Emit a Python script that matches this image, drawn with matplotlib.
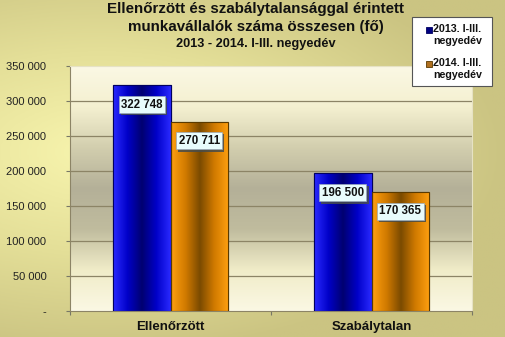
import numpy as np
import matplotlib
matplotlib.use("Agg")
import matplotlib.pyplot as plt
from matplotlib.colors import LinearSegmentedColormap
import matplotlib.patheffects as pe

categories = ["Ellenőrzött", "Szabálytalan"]
series_names = ["2013. I-III.\nnegyedév", "2014. I-III.\nnegyedév"]
values_2013 = [322748, 196500]
values_2014 = [270711, 170365]
yticks = [0, 50000, 100000, 150000, 200000, 250000, 300000, 350000]
ytick_labels = ["-", "50 000", "100 000", "150 000", "200 000", "250 000", "300 000", "350 000"]
label_texts_2013 = ["322 748", "196 500"]
label_texts_2014 = ["270 711", "170 365"]

plt.rcParams['font.family'] = ['Liberation Sans', 'DejaVu Sans']

W, H = 506, 337
fig = plt.figure(figsize=(W/100, H/100), dpi=100)

# figure background gradient
bg = fig.add_axes([0, 0, 1, 1], zorder=-10)
bg.axis('off')
yy, xx = np.mgrid[0:1:200j, 0:1:300j]
d = np.sqrt(((xx - 0.2) / 1.0) ** 2 + ((yy - 0.45) / 0.75) ** 2)
bgcmap = LinearSegmentedColormap.from_list("bgc", ["#f8f5ae", "#e4df98", "#cbc482"])
bg.imshow(d, cmap=bgcmap, aspect='auto', extent=[0, 1, 0, 1], vmin=0, vmax=0.8)
bg.set_xlim(0, 1); bg.set_ylim(0, 1)

ax = fig.add_axes([70/W, 1 - 311/H, (472 - 70)/W, (311 - 66)/H])
ax.set_xlim(-0.5, 1.5)
ax.set_ylim(0, 350000)

# plot area gradient
pcmap = LinearSegmentedColormap.from_list("pc", ["#fbf8e4", "#f0ecc8", "#c0bc9e", "#b4b098", "#d2ceae", "#f4f0d0", "#fbf8e4"])
grad = np.linspace(0, 1, 256).reshape(-1, 1)
ax.imshow(grad, cmap=pcmap, aspect='auto', extent=[-0.5, 1.5, 350000, 0], zorder=0)

for y in yticks[1:-1]:
    ax.axhline(y, color="#8c8466", lw=0.9, zorder=1)

x = np.arange(len(categories))
w = 0.285
bars1 = ax.bar(x - w/2, values_2013, w, color="#1a1aff", edgecolor="#000060", lw=0.8, zorder=2)
bars2 = ax.bar(x + w/2, values_2014, w, color="#ff9900", edgecolor="#5a3a00", lw=0.8, zorder=2)

blue_cmap = LinearSegmentedColormap.from_list("bl", ["#2a2aff", "#0000c8", "#000070", "#0000c8", "#2a2aff"])
orange_cmap = LinearSegmentedColormap.from_list("or", ["#ffa010", "#d07a00", "#7a4a00", "#d07a00", "#ffa010"])
hgrad = np.linspace(0, 1, 128).reshape(1, -1)
for bars, cm in [(bars1, blue_cmap), (bars2, orange_cmap)]:
    for b in bars:
        x0, y0 = b.get_x(), b.get_y()
        im = ax.imshow(hgrad, cmap=cm, aspect='auto',
                       extent=[x0, x0 + b.get_width(), y0, y0 + b.get_height()], zorder=2.5)
        im.set_clip_path(b)
        r = plt.Rectangle((x0, y0), b.get_width(), b.get_height(), fill=False,
                          ec=b.get_edgecolor(), lw=0.8, zorder=2.6)
        ax.add_patch(r)

ax.set_xlim(-0.5, 1.5)
ax.set_ylim(0, 350000)

def add_labels(bars, texts):
    for b, t in zip(bars, texts):
        ax.annotate(t, (b.get_x() + b.get_width()/2, b.get_height()), xytext=(0, -14),
                    textcoords='offset points', ha='center', va='center', fontsize=8.3,
                    fontweight='bold', color='#111111', zorder=5,
                    bbox=dict(boxstyle='square,pad=0.22', fc='#e8fcfc', ec='#9ab', lw=0.5,
                              path_effects=[pe.withSimplePatchShadow(offset=(1.5, -1.5), alpha=0.85)]))

add_labels(bars1, label_texts_2013)
add_labels(bars2, label_texts_2014)

ax.set_yticks(yticks)
ax.set_yticklabels(ytick_labels, fontsize=8, color="#222222")
ax.set_xticks(x)
ax.set_xticklabels(categories, fontsize=9.5, fontweight='bold', color="#111111")
ax.set_xticks([-0.5, 0.5, 1.5], minor=True)
ax.tick_params(axis='x', which='major', length=0, pad=7)
ax.tick_params(axis='x', which='minor', length=3, color="#777766", width=0.8)
ax.tick_params(axis='y', length=3, color="#777766", pad=14)
ax.spines['top'].set_color("#e6e2c4")
ax.spines['right'].set_color("#e6e2c4")
ax.spines['left'].set_color("#8c8466")
ax.spines['bottom'].set_color("#8c8466")

fig.text(0.505, 1 - 9/H, "Ellenőrzött és szabálytalansággal érintett", ha='center', va='center',
         fontsize=10.9, fontweight='bold', color='#111111')
fig.text(0.505, 1 - 27/H, "munkavállalók száma összesen (fő)", ha='center', va='center',
         fontsize=10.9, fontweight='bold', color='#111111')
fig.text(0.505, 1 - 44/H, "2013 - 2014. I-III. negyedév", ha='center', va='center',
         fontsize=9.2, fontweight='bold', color='#111111')

# legend (manual)
frame = plt.Rectangle((412/W, 1 - 86/H), 80/W, 69/H, transform=fig.transFigure,
                      fc='white', ec='#555555', lw=0.8, zorder=3)
fig.add_artist(frame)
legend_face = ["#000080", "#b07020"]
legend_edge = ["#000060", "#5a3a00"]
legend_top = [30, 64]
for name, fc, ec, ty in zip(series_names, legend_face, legend_edge, legend_top):
    sq = plt.Rectangle((426/W, 1 - (ty + 3)/H), 6/W, 6/H, transform=fig.transFigure,
                       fc=fc, ec=ec, lw=0.6, zorder=4)
    fig.add_artist(sq)
    fig.text(433/W, 1 - (ty - 5.5)/H, name, ha='left', va='top', fontsize=7.7,
             fontweight='bold', color='#111111', linespacing=1.2, zorder=5)

fig.savefig("out.png", dpi=100)
